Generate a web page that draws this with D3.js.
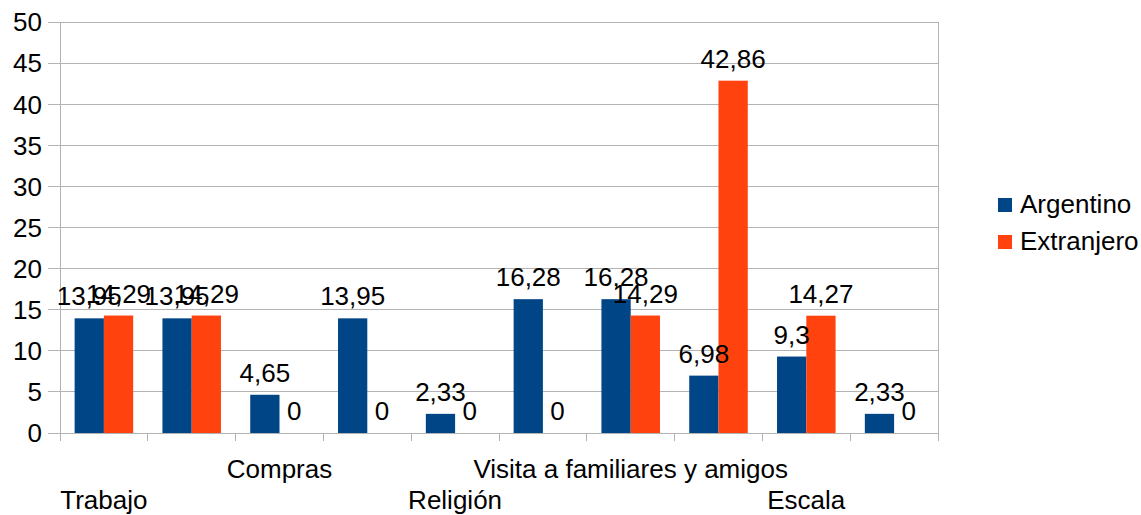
<!DOCTYPE html>
<html>
<head>
<meta charset="utf-8">
<script src="https://cdn.jsdelivr.net/npm/d3@7"></script>
<style>
  html, body { margin: 0; padding: 0; background: #fff; }
  svg { display: block; font-family: "Liberation Sans", Arial, sans-serif; }
</style>
</head>
<body>
<svg id="chart" width="1141" height="515"></svg>
<script>
const categories = ["Trabajo", "", "Compras", "", "Religión", "", "Visita a familiares y amigos", "", "Escala", ""];
const seriesNames = ["Argentino", "Extranjero"];
const argentino = [13.95, 13.95, 4.65, 13.95, 2.33, 16.28, 16.28, 6.98, 9.3, 2.33];
const extranjero = [14.29, 14.29, 0, 0, 0, 0, 14.29, 42.86, 14.27, 0];
const yTicks = [0, 5, 10, 15, 20, 25, 30, 35, 40, 45, 50];
const colors = ["#004586", "#ff420e"];

(function () {
const svg = d3.select("#chart");
const pLeft = 60, pRight = 938, pTop = 22, pBottom = 433;
const fontSize = 26;

const x = d3.scaleBand().domain(d3.range(categories.length)).range([pLeft, pRight]).padding(0);
const y = d3.scaleLinear().domain([0, 50]).range([pBottom, pTop]);
const barW = x.bandwidth() / 3;

const grid = "#b3b3b3";

// gridlines + y ticks
svg.append("g").selectAll("line").data(yTicks).join("line")
  .attr("x1", pLeft - 12).attr("x2", pRight)
  .attr("y1", d => y(d)).attr("y2", d => y(d))
  .attr("stroke", grid).attr("stroke-width", 1).attr("shape-rendering", "crispEdges");

// y axis line and right border
svg.append("line").attr("x1", pLeft).attr("x2", pLeft).attr("y1", pTop).attr("y2", pBottom + 8)
  .attr("stroke", grid).attr("shape-rendering", "crispEdges");
svg.append("line").attr("x1", pRight).attr("x2", pRight).attr("y1", pTop).attr("y2", pBottom + 8)
  .attr("stroke", grid).attr("shape-rendering", "crispEdges");

// category ticks
const bounds = d3.range(categories.length + 1).map(i => pLeft + i * x.bandwidth());
svg.append("g").selectAll("line").data(bounds).join("line")
  .attr("x1", d => d).attr("x2", d => d).attr("y1", pBottom).attr("y2", pBottom + 8)
  .attr("stroke", grid).attr("shape-rendering", "crispEdges");

// y tick labels
svg.append("g").selectAll("text").data(yTicks).join("text")
  .attr("x", 42).attr("y", d => y(d)).attr("dy", "0.36em")
  .attr("text-anchor", "end").attr("font-size", fontSize).attr("fill", "#000")
  .text(d => d);

// bars
const series = [argentino, extranjero];
series.forEach((vals, s) => {
  const g = svg.append("g");
  g.selectAll("rect").data(vals).join("rect")
    .attr("x", (d, i) => x(i) + x.bandwidth() / 2 - barW + s * barW)
    .attr("width", barW)
    .attr("y", d => y(d))
    .attr("height", d => y(0) - y(d))
    .attr("fill", colors[s]);
});
// value labels
series.forEach((vals, s) => {
  svg.append("g").selectAll("text").data(vals).join("text")
    .attr("x", (d, i) => x(i) + x.bandwidth() / 2 - barW / 2 + s * barW)
    .attr("y", d => y(d) - 13)
    .attr("text-anchor", "middle").attr("font-size", fontSize).attr("fill", "#000")
    .text(d => String(d).replace(".", ","));
});

// category labels (staggered)
const shown = categories.map((c, i) => ({c, i})).filter(d => d.c !== "");
svg.append("g").selectAll("text").data(shown).join("text")
  .attr("x", d => x(d.i) + x.bandwidth() / 2)
  .attr("y", (d, k) => k % 2 === 0 ? 509 : 478)
  .attr("text-anchor", "middle").attr("font-size", fontSize).attr("fill", "#000")
  .text(d => d.c);

// legend
const lg = svg.append("g").selectAll("g").data(seriesNames).join("g")
  .attr("transform", (d, i) => `translate(998, ${198 + i * 37})`);
lg.append("rect").attr("width", 14).attr("height", 14).attr("fill", (d, i) => colors[i]);
lg.append("text").attr("x", 22).attr("y", 15).attr("font-size", fontSize).attr("fill", "#000").text(d => d);
})();
</script>
</body>
</html>
